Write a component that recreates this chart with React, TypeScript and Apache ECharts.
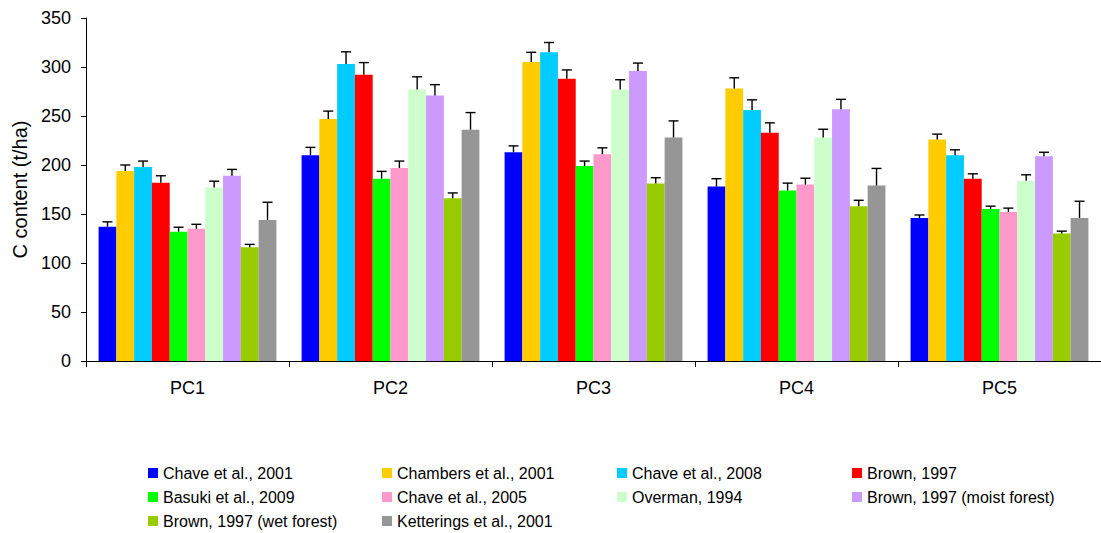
import React, { useEffect, useRef } from "react";
import * as echarts from "echarts";

const categories = ["PC1", "PC2", "PC3", "PC4", "PC5"];
const seriesNames = [
  "Chave et al., 2001",
  "Chambers et al., 2001",
  "Chave et al., 2008",
  "Brown, 1997",
  "Basuki et al., 2009",
  "Chave et al., 2005",
  "Overman, 1994",
  "Brown, 1997 (moist forest)",
  "Brown, 1997 (wet forest)",
  "Ketterings et al., 2001",
];
const colors = [
  "#0000FF", "#FFCC00", "#00CCFF", "#FF0000", "#00FF00",
  "#FF99CC", "#CCFFCC", "#CC99FF", "#99CC00", "#969696",
];

const chave2001 = [137, 210, 213, 178, 146];
const chambers2001 = [194, 247, 305, 278, 226];
const chave2008 = [198, 303, 315, 256, 210];
const brown1997 = [182, 292, 288, 233, 186];
const basuki2009 = [132, 186, 199, 174, 155];
const chave2005 = [135, 197, 211, 180, 152];
const overman1994 = [177, 277, 277, 228, 184];
const brownMoist = [189, 271, 296, 257, 209];
const brownWet = [116, 166, 181, 158, 130];
const ketterings2001 = [144, 236, 228, 179, 146];

const errChave2001 = [5, 8, 6.5, 8, 3];
const errChambers2001 = [6, 8, 10, 11, 5.5];
const errChave2008 = [6, 12.5, 10, 10.5, 5.5];
const errBrown1997 = [7, 12.5, 9, 10, 5];
const errBasuki2009 = [4.5, 7.5, 5, 7.5, 3];
const errChave2005 = [4.5, 7, 6.5, 6.5, 4];
const errOverman1994 = [6.5, 13, 10, 8.5, 6];
const errBrownMoist = [6.5, 11, 8, 10, 4];
const errBrownWet = [3, 5.5, 6, 6, 2.5];
const errKetterings2001 = [18, 17.5, 17, 17.5, 17];

const yTicks = [0, 50, 100, 150, 200, 250, 300, 350];

const values = [
  chave2001, chambers2001, chave2008, brown1997, basuki2009,
  chave2005, overman1994, brownMoist, brownWet, ketterings2001,
];
const errors = [
  errChave2001, errChambers2001, errChave2008, errBrown1997, errBasuki2009,
  errChave2005, errOverman1994, errBrownMoist, errBrownWet, errKetterings2001,
];

const legendColumns = [
  [0, 4, 8],
  [1, 5, 9],
  [2, 6],
  [3, 7],
];
const legendLefts = [148, 382, 617, 852];

export default function App() {
  const ref = useRef<HTMLDivElement>(null);
  useEffect(() => {
    if (!ref.current) return;
    const chart = echarts.init(ref.current, null, { renderer: "svg" });
    const gapFrac = 0.124;
    const font = "Liberation Sans, Arial, sans-serif";

    const barSeries = seriesNames.map((name, i) => ({
      type: "bar",
      name,
      data: values[i],
      itemStyle: { color: colors[i] },
      barGap: "0%",
      barCategoryGap: "12.4%",
    }));

    const errData: number[][] = [];
    values.forEach((vals, s) =>
      vals.forEach((v, c) => errData.push([c, v, v + errors[s][c], s]))
    );

    const errSeries = {
      type: "custom",
      name: "error",
      z: 10,
      data: errData,
      encode: { x: 0, y: [1, 2] },
      renderItem: (params: any, api: any) => {
        const c = api.value(0);
        const s = api.value(3);
        const base = api.coord([c, api.value(1)]);
        const top = api.coord([c, api.value(2)]);
        const band = api.size([1, 0])[0];
        const inner = band * (1 - gapFrac);
        const bw = inner / 10;
        const x = base[0] - inner / 2 + (s + 0.5) * bw;
        const st = { stroke: "#000", lineWidth: 1.4 };
        return {
          type: "group",
          children: [
            { type: "line", shape: { x1: x, y1: base[1], x2: x, y2: top[1] }, style: st },
            { type: "line", shape: { x1: x - 5, y1: top[1], x2: x + 5, y2: top[1] }, style: st },
          ],
        };
      },
    };

    const legends = legendColumns.map((col, k) => ({
      orient: "vertical",
      left: legendLefts[k],
      top: 465,
      padding: 0,
      itemWidth: 10,
      itemHeight: 10,
      itemGap: 8,
      icon: "rect",
      selectedMode: false,
      data: col.map((i) => seriesNames[i]),
      textStyle: { fontFamily: font, fontSize: 16, color: "#000", lineHeight: 16 },
    }));

    chart.setOption({
      animation: false,
      backgroundColor: "#fff",
      textStyle: { fontFamily: font },
      legend: legends,
      grid: { left: 86, top: 18, width: 1022, height: 343, containLabel: false },
      xAxis: {
        type: "category",
        data: categories,
        axisLine: { lineStyle: { color: "#000", width: 1 } },
        axisTick: { show: true, length: 6, lineStyle: { color: "#000" } },
        axisLabel: { fontFamily: font, fontSize: 18, color: "#000", margin: 18 },
        splitLine: { show: false },
      },
      yAxis: {
        type: "value",
        min: yTicks[0],
        max: yTicks[yTicks.length - 1],
        interval: 50,
        name: "C content (t/ha)",
        nameLocation: "middle",
        nameGap: 56,
        nameTextStyle: { fontFamily: font, fontSize: 20, color: "#000" },
        axisLine: { show: true, lineStyle: { color: "#000", width: 1 } },
        axisTick: { show: true, length: 5, lineStyle: { color: "#000" } },
        axisLabel: { fontFamily: font, fontSize: 18, color: "#000", margin: 15 },
        splitLine: { show: false },
      },
      series: [...barSeries, errSeries],
    });
    return () => chart.dispose();
  }, []);

  return (
    <div
      ref={ref}
      style={{ position: "fixed", left: 0, top: 0, width: 1101, height: 533, background: "#fff" }}
    />
  );
}
